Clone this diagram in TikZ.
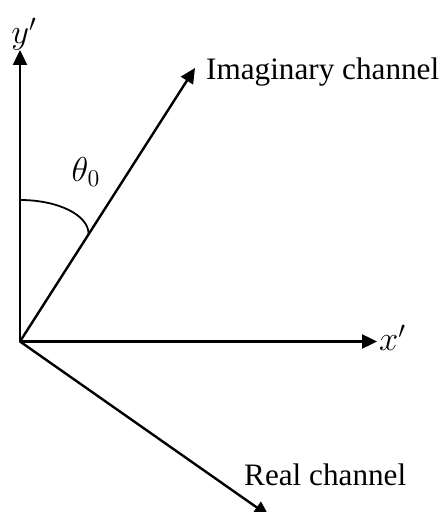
\documentclass[tikz,border=0pt]{standalone}
\usepackage{fontspec}
\setmainfont{Liberation Serif}
\usetikzlibrary{arrows.meta}

\begin{document}
\begin{tikzpicture}[x=0.5pt, y=-0.5pt, line width=1.2pt,
    axis/.style={-{Triangle[length=7.5pt, width=7pt]}},
    lbl/.style={inner sep=0pt, font=\fontsize{15.6}{18}\selectfont},
    mlbl/.style={inner sep=0pt, font=\fontsize{18}{20}\selectfont}]
    \useasboundingbox (0,0) rectangle (447,512);
    \coordinate (o) at (20,341.5);
    \coordinate (ytip) at (20,50);
    \coordinate (xtip) at (377,341.5);
    \coordinate (imtip) at (195,68);
    \coordinate (retip) at (269,516);
    \draw[axis] (o) -- (ytip);
    \draw[axis] (o) -- (xtip);
    \draw[axis] (o) -- (imtip);
    \draw[axis] (o) -- (retip);
    % angle between y' and the imaginary channel
    \coordinate (arcA) at (20,200);
    \coordinate (arcB) at (88.6,234);
    \draw[line width=0.9pt] (arcA) .. controls (58,200) and (88.6,215) .. (arcB);
    \node[mlbl] (theta) at (86,172) {$\theta_0$};
    \node[mlbl, anchor=center] (ylab) at (24,34) {$y^{\prime}$};
    \node[mlbl, anchor=west] (xlab) at (378,338) {$x^{\prime}$};
    \node[lbl, anchor=base west] (imlab) at (205,80) {Imaginary channel};
    \node[lbl, anchor=base west] (relab) at (243,485) {Real channel};
\end{tikzpicture}
\end{document}
